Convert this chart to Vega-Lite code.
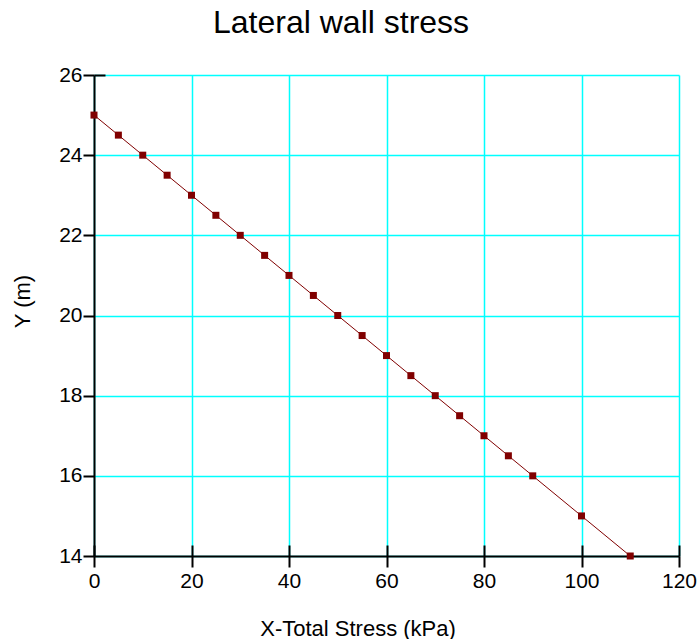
{
  "$schema": "https://vega.github.io/schema/vega-lite/v6.json",
  "width": 585,
  "height": 481,
  "autosize": "none",
  "padding": {"left": 94, "top": 75, "right": 21, "bottom": 83},
  "background": "white",
  "title": {
    "text": "Lateral wall stress",
    "font": "Liberation Sans",
    "fontSize": 32,
    "fontWeight": "normal",
    "color": "black",
    "anchor": "start",
    "frame": "group",
    "dx": 119,
    "baseline": "alphabetic",
    "offset": -1
  },
  "config": {
    "view": {"stroke": null},
    "axis": {
      "labelFont": "Liberation Sans",
      "titleFont": "Liberation Sans",
      "labelColor": "black",
      "titleColor": "black",
      "labelFontSize": 21,
      "titleFontSize": 22,
      "titleFontWeight": "normal",
      "domainColor": "black",
      "domainWidth": 2,
      "tickColor": "black",
      "tickWidth": 2,
      "gridColor": "#00FFFF",
      "gridWidth": 1.5,
      "gridOpacity": 1
    }
  },
  "data": {
    "values": [
      {"stress": 0, "elev": 25},
      {"stress": 5, "elev": 24.5},
      {"stress": 10, "elev": 24},
      {"stress": 15, "elev": 23.5},
      {"stress": 20, "elev": 23},
      {"stress": 25, "elev": 22.5},
      {"stress": 30, "elev": 22},
      {"stress": 35, "elev": 21.5},
      {"stress": 40, "elev": 21},
      {"stress": 45, "elev": 20.5},
      {"stress": 50, "elev": 20},
      {"stress": 55, "elev": 19.5},
      {"stress": 60, "elev": 19},
      {"stress": 65, "elev": 18.5},
      {"stress": 70, "elev": 18},
      {"stress": 75, "elev": 17.5},
      {"stress": 80, "elev": 17},
      {"stress": 85, "elev": 16.5},
      {"stress": 90, "elev": 16},
      {"stress": 100, "elev": 15},
      {"stress": 110, "elev": 14}
    ]
  },
  "layer": [
    {
      "mark": {"type": "line", "color": "#800000", "strokeWidth": 1, "clip": false},
      "encoding": {
        "x": {
          "field": "stress",
          "type": "quantitative",
          "scale": {"domain": [0, 120], "nice": false, "zero": false},
          "axis": {
            "orient": "bottom",
            "values": [0, 20, 40, 60, 80, 100, 120],
            "format": "d",
            "tickSize": 11,
            "labelPadding": 3,
            "labelFlush": false,
            "labelOverlap": false,
            "title": "X-Total Stress (kPa)",
            "titleX": 263.5,
            "titleY": 79,
            "titleAnchor": null,
            "titleAlign": "center",
            "titleBaseline": "alphabetic",
            "grid": true
          }
        },
        "y": {
          "field": "elev",
          "type": "quantitative",
          "scale": {"domain": [14, 26], "nice": false, "zero": false},
          "axis": {
            "orient": "left",
            "values": [14, 16, 18, 20, 22, 24, 26],
            "format": "d",
            "tickSize": 11,
            "labelPadding": 1,
            "labelFlush": false,
            "labelOverlap": false,
            "title": "Y (m)",
            "titleX": -72,
            "titleY": 226,
            "titleAngle": -90,
            "titleAlign": "center",
            "titleBaseline": "middle",
            "grid": true
          }
        }
      }
    },
    {
      "mark": {"type": "square", "color": "#800000", "size": 49, "opacity": 1, "clip": false},
      "encoding": {
        "x": {
          "field": "stress",
          "type": "quantitative",
          "axis": {
            "orient": "bottom",
            "values": [0, 20, 40, 60, 80, 100, 120],
            "tickSize": -11,
            "labels": false,
            "domain": false,
            "grid": false,
            "title": null
          }
        },
        "y": {
          "field": "elev",
          "type": "quantitative",
          "axis": {
            "orient": "left",
            "values": [26],
            "tickSize": -11,
            "labels": false,
            "domain": false,
            "grid": false,
            "title": null
          }
        }
      }
    }
  ],
  "resolve": {"axis": {"x": "independent", "y": "independent"}}
}
